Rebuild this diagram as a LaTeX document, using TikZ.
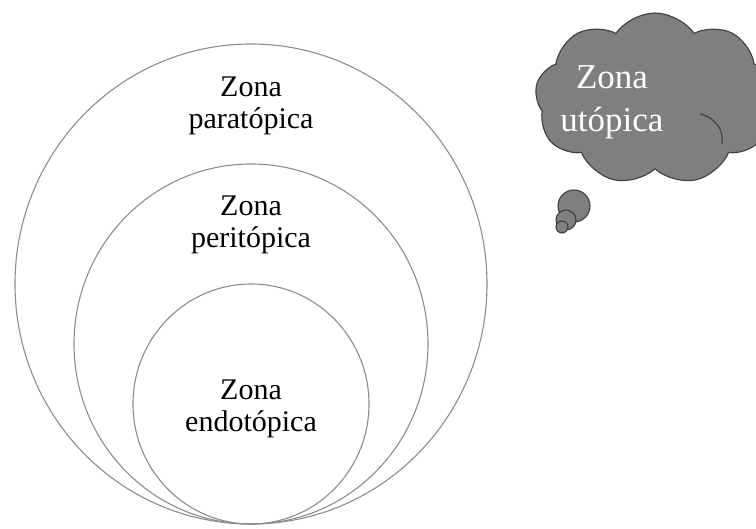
\documentclass[tikz,border=0pt]{standalone}
\usepackage{fontspec}
\setmainfont{Liberation Serif}
\usepackage{tikz}
\usetikzlibrary{shapes.symbols}

\definecolor{ringgray}{HTML}{8C8C8C}
\definecolor{cloudgray}{HTML}{7F7F7F}
\definecolor{cloudline}{HTML}{3F3F3F}

\tikzset{
  zone/.style={align=center, font=\fontsize{30}{32}\selectfont},
  ring/.style={ringgray, line width=1.1pt},
  bubble/.style={fill=cloudgray, draw=cloudline, line width=1.1pt}
}

\begin{document}
\begin{tikzpicture}[x=1pt,y=-1pt]
		\useasboundingbox (0,0) rectangle (756,529);
		% nested zones, all touching at the bottom
		\draw[ring] (251,284) ellipse (236 and 240);
		\draw[ring] (251,344) ellipse (177 and 180);
		\draw[ring] (251,404) ellipse (118 and 120);
		\node[zone] (para) at (251,106) {Zona\\paratópica};
		\node[zone] (peri) at (251,225) {Zona\\peritópica};
		\node[zone] (endo) at (251,409) {Zona\\endotópica};
		% thought cloud
		\node[cloud, cloud puffs=9, cloud puff arc=110, aspect=1.5, bubble,
			minimum width=240, minimum height=172] (cloud) at (655,99) {};
		\draw[cloudline, line width=1.1pt] (700,114) .. controls (716,118) and (724,130) .. (722,144);
		\draw[bubble] (574,206) circle (16);
		\draw[bubble] (566,220) circle (10);
		\draw[bubble] (562,227) circle (6);
		\node[align=center, white, font=\fontsize{35}{43}\selectfont] (utop) at (612,102) {Zona\\utópica};
	\end{tikzpicture}
\end{document}
